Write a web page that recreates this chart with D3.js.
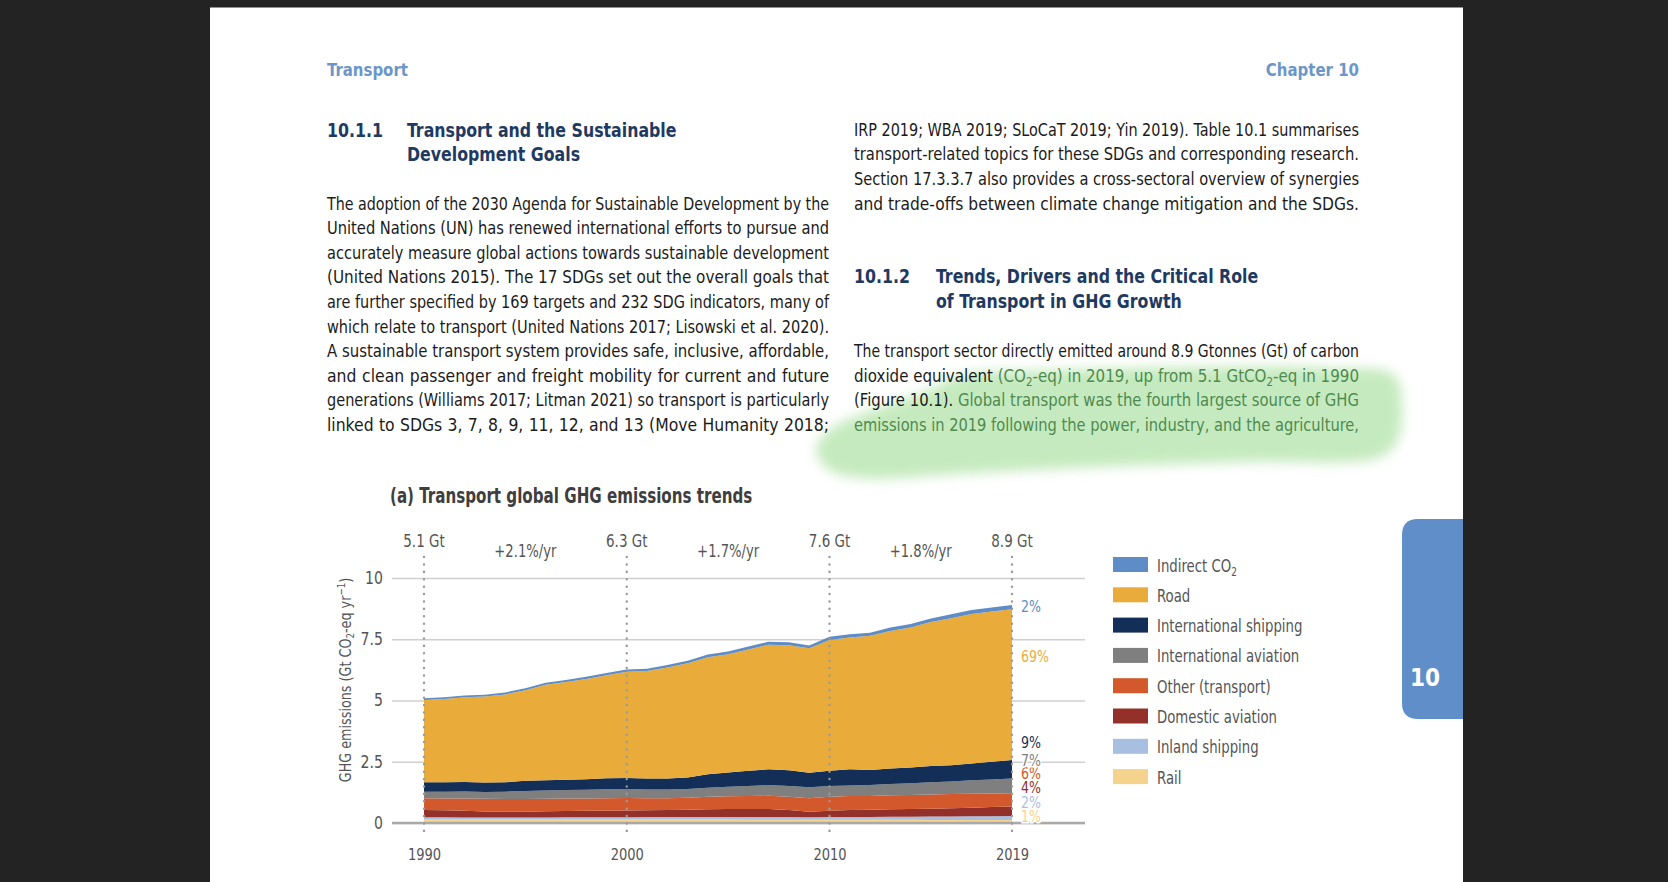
<!DOCTYPE html>
<html lang="en">
<head>
<meta charset="UTF-8">
<title>Transport global GHG emissions trends</title>
<script src="https://d3js.org/d3.v7.min.js"></script>
<style>
  body { margin: 0; background: #232323; overflow: hidden; }
  svg { display: block; font-family: "Liberation Sans Narrow", "Arial Narrow", "DejaVu Sans Condensed", sans-serif; }
</style>
</head>
<body>
<svg id="page" width="1668" height="882"></svg>
<script>
// ---- chart data (Gt CO2-eq per year) ----
const years = [1990, 1991, 1992, 1993, 1994, 1995, 1996, 1997, 1998, 1999,
               2000, 2001, 2002, 2003, 2004, 2005, 2006, 2007, 2008, 2009,
               2010, 2011, 2012, 2013, 2014, 2015, 2016, 2017, 2018, 2019];

const rail             = [0.14,0.14,0.14,0.14,0.14,0.14,0.14,0.14,0.14,0.14,0.14,0.14,0.14,0.14,0.14,0.14,0.13,0.13,0.13,0.13,0.13,0.13,0.13,0.13,0.13,0.12,0.12,0.12,0.12,0.12];
const inlandShipping   = [0.09,0.09,0.08,0.08,0.08,0.08,0.08,0.09,0.09,0.09,0.09,0.10,0.10,0.10,0.10,0.11,0.12,0.12,0.11,0.10,0.12,0.12,0.12,0.13,0.13,0.15,0.15,0.16,0.16,0.17];
const domesticAviation = [0.30,0.29,0.28,0.25,0.24,0.24,0.26,0.26,0.27,0.27,0.28,0.28,0.29,0.30,0.32,0.32,0.32,0.32,0.29,0.23,0.25,0.28,0.29,0.30,0.31,0.31,0.33,0.34,0.37,0.38];
const otherTransport   = [0.48,0.48,0.50,0.52,0.52,0.52,0.51,0.51,0.50,0.51,0.51,0.49,0.48,0.49,0.51,0.52,0.53,0.54,0.54,0.55,0.57,0.57,0.56,0.57,0.57,0.58,0.58,0.57,0.55,0.54];
const intlAviation     = [0.27,0.28,0.29,0.28,0.30,0.33,0.34,0.35,0.36,0.37,0.37,0.36,0.36,0.36,0.37,0.39,0.41,0.44,0.44,0.45,0.44,0.43,0.45,0.46,0.48,0.50,0.51,0.55,0.58,0.61];
const intlShipping     = [0.38,0.38,0.38,0.38,0.38,0.41,0.42,0.42,0.43,0.45,0.45,0.45,0.45,0.47,0.55,0.58,0.62,0.64,0.64,0.59,0.62,0.66,0.61,0.63,0.65,0.67,0.67,0.69,0.72,0.75];
const road             = [3.36,3.40,3.46,3.51,3.59,3.70,3.89,3.99,4.09,4.20,4.33,4.38,4.53,4.66,4.78,4.83,4.95,5.09,5.11,5.08,5.34,5.38,5.48,5.62,5.71,5.87,6.00,6.10,6.13,6.15];
const indirectCO2      = [0.07,0.07,0.07,0.07,0.08,0.08,0.08,0.08,0.09,0.09,0.10,0.10,0.10,0.10,0.11,0.11,0.12,0.12,0.12,0.12,0.13,0.13,0.13,0.14,0.14,0.15,0.16,0.16,0.17,0.18];

// stacking order, bottom to top
const seriesKeys   = ["rail", "inland", "domestic", "other", "intlAv", "intlShip", "road", "indirect"];
const seriesNames  = ["Rail", "Inland shipping", "Domestic aviation", "Other (transport)",
                      "International aviation", "International shipping", "Road", "Indirect CO_2"];
const seriesValues = [rail, inlandShipping, domesticAviation, otherTransport,
                      intlAviation, intlShipping, road, indirectCO2];
const seriesColors = ["#f6d38c", "#a9bfe2", "#93302a", "#d3582b", "#7f7f7f", "#132f57", "#e9ac3b", "#5d8cc7"];

// 2019 shares, printed right of the stack (bottom to top) and where they sit (Gt)
const shareLabels = ["1%", "2%", "4%", "6%", "7%", "9%", "69%", "2%"];
const shareAt     = [0.04, 0.61, 1.22, 1.8, 2.33, 3.06, 6.57, 8.61];

const totalYears  = [1990, 2000, 2010, 2019];
const totalLabels = ["5.1 Gt", "6.3 Gt", "7.6 Gt", "8.9 Gt"];
const growthLabels = ["+2.1%/yr", "+1.7%/yr", "+1.8%/yr"];
const yTicks = [0, 2.5, 5, 7.5, 10];
const xTicks = [1990, 2000, 2010, 2019];

// ---- page text ----
const leftLines = [
  "The adoption of the 2030 Agenda for Sustainable Development by the",
  "United Nations (UN) has renewed international efforts to pursue and",
  "accurately measure global actions towards sustainable development",
  "(United Nations 2015). The 17 SDGs set out the overall goals that",
  "are further specified by 169 targets and 232 SDG indicators, many of",
  "which relate to transport (United Nations 2017; Lisowski et al. 2020).",
  "A sustainable transport system provides safe, inclusive, affordable,",
  "and clean passenger and freight mobility for current and future",
  "generations (Williams 2017; Litman 2021) so transport is particularly",
  "linked to SDGs 3, 7, 8, 9, 11, 12, and 13 (Move Humanity 2018;"
];
const rightLinesTop = [
  "IRP 2019; WBA 2019; SLoCaT 2019; Yin 2019). Table 10.1 summarises",
  "transport-related topics for these SDGs and corresponding research.",
  "Section 17.3.3.7 also provides a cross-sectoral overview of synergies",
  "and trade-offs between climate change mitigation and the SDGs."
];
const rightLinesBottom = [
  "The transport sector directly emitted around 8.9 Gtonnes (Gt) of carbon",
  "dioxide equivalent [g](CO_2-eq) in 2019, up from 5.1 GtCO_2-eq in 1990",
  "(Figure 10.1). [g]Global transport was the fourth largest source of GHG",
  "[g]emissions in 2019 following the power, industry, and the agriculture,"
];

const svg = d3.select("#page");
const GREEN_TEXT = "#4f8a4f";

// page sheet
svg.append("rect").attr("x", 210).attr("y", 7.5).attr("width", 1253).attr("height", 880).attr("fill", "#fff");

// chapter tab
svg.append("path")
  .attr("d", "M1463,519 L1418,519 Q1402,519 1402,535 L1402,703 Q1402,719 1418,719 L1463,719 Z")
  .attr("fill", "#5f8ec8");
svg.append("text").attr("x", 1425).attr("y", 686).attr("text-anchor", "middle")
  .attr("font-size", 24).attr("font-weight", "bold").attr("fill", "#fff").text("10");

// highlighter stroke
const defs = svg.append("defs");
defs.append("filter").attr("id", "soft").attr("x", "-10%").attr("y", "-30%").attr("width", "120%").attr("height", "160%")
  .append("feGaussianBlur").attr("stdDeviation", 6);
const blob = [[957,376],[1060,370],[1200,367],[1330,368],[1394,375],[1402,405],[1397,442],[1378,458],
              [1250,462],[1100,467],[960,474],[860,478],[826,468],[816,448],[832,428],[878,408],[930,390]];
svg.append("path").attr("d", d3.line().curve(d3.curveCatmullRomClosed)(blob))
  .attr("fill", "#bce7b4").attr("opacity", 0.85).attr("filter", "url(#soft)");

// rich text: _2 subscript, ^-1 superscript, [g] switch to highlighted colour
function addRich(sel, str, size) {
  let col = null;
  str.split(/(_2|\^-1|\[g\])/).forEach(p => {
    if (p === "") return;
    if (p === "[g]") { col = GREEN_TEXT; return; }
    const t = sel.append("tspan");
    if (p === "_2") {
      t.text("2").attr("font-size", size * 0.68).attr("baseline-shift", (-size * 0.2) + "px");
    } else if (p === "^-1") {
      t.text("\u22121").attr("font-size", size * 0.68).attr("baseline-shift", (size * 0.38) + "px");
    } else {
      t.text(p);
    }
    if (col) t.attr("fill", col);
  });
}

// one line of page text, narrowed by k, optionally justified between x0 and x1
function textLine(g, x0, x1, y, str, o) {
  const k = o.k || 1;
  const t = g.append("text").attr("transform", `translate(${x0},${y}) scale(${k},1)`)
    .attr("font-size", o.size).attr("fill", o.fill)
    .attr("font-weight", o.bold ? "bold" : null);
  addRich(t, str, o.size);
  const w = t.node().getComputedTextLength();
  const target = (x1 - x0) / k;
  const gaps = (str.match(/ /g) || []).length;
  if (o.justify) {
    if (w > target || !gaps) t.attr("textLength", target).attr("lengthAdjust", "spacingAndGlyphs");
    else t.style("word-spacing", ((target - w) / gaps) + "px");
  } else if (w > target) {
    t.attr("textLength", target).attr("lengthAdjust", "spacingAndGlyphs");
  }
  return t;
}

// narrow already-placed labels to match the condensed face of the original
function squash(sel, k) {
  sel.each(function () {
    const w = this.getComputedTextLength();
    d3.select(this).attr("textLength", w * k).attr("lengthAdjust", "spacingAndGlyphs");
  });
}

const txt = svg.append("g");
const body = { size: 18.5, fill: "#1b1b1b", k: 0.94 };

// running header
const header = { size: 18.5, fill: "#6b96c9", bold: true, k: 0.9 };
textLine(txt, 327, 500, 76, "Transport", header);
const ch = textLine(txt, 1188, 1400, 76, "Chapter 10", header);
{
  // right-align the chapter label on the column edge
  const w = ch.node().getComputedTextLength() * 0.9;
  ch.attr("transform", `translate(${1359 - w},76) scale(0.9,1)`);
}

// section headings
const head = { size: 19.5, fill: "#1f3a62", bold: true, k: 0.9 };
textLine(txt, 327, 400, 136.5, "10.1.1", head);
textLine(txt, 407, 760, 136.5, "Transport and the Sustainable", head);
textLine(txt, 407, 760, 160.5, "Development Goals", head);
textLine(txt, 854, 930, 283.3, "10.1.2", head);
textLine(txt, 936, 1300, 283.3, "Trends, Drivers and the Critical Role", head);
textLine(txt, 936, 1300, 307.9, "of Transport in GHG Growth", head);

// paragraphs
const LH = 24.6;
leftLines.forEach((s, i) => textLine(txt, 327, 829, 209.5 + i * LH, s, Object.assign({ justify: true }, body)));
rightLinesTop.forEach((s, i) => textLine(txt, 854, 1359, 135.7 + i * LH, s,
  Object.assign({ justify: i < rightLinesTop.length - 1 }, body)));
rightLinesBottom.forEach((s, i) => textLine(txt, 854, 1359, 357.1 + i * LH, s, Object.assign({ justify: true }, body)));

// ---- chart ----
const x = d3.scaleLinear().domain([1990, 2019]).range([424, 1012]);
const y = d3.scaleLinear().domain([0, 10]).range([823, 578]);
const gridLeft = 392, gridRight = 1085;
const ink = "#555";

const chart = svg.append("g");

const title = chart.append("text").attr("x", 390).attr("y", 503).attr("font-size", 20.5).attr("font-weight", "bold")
  .attr("fill", "#3e3e3e").text("(a) Transport global GHG emissions trends");
squash(title, 0.82);

// y axis with gridlines
const yAxis = chart.append("g").attr("transform", `translate(${gridLeft},0)`)
  .call(d3.axisLeft(y).tickValues(yTicks).tickFormat(d => d).tickSize(-(gridRight - gridLeft)).tickPadding(9));
yAxis.attr("font-family", null);
yAxis.select(".domain").remove();
yAxis.selectAll(".tick line").attr("stroke", "#cfcfcf").attr("stroke-width", 1.6);
yAxis.selectAll(".tick text").attr("font-size", 17).attr("fill", ink);
squash(yAxis.selectAll(".tick text"), 0.92);

const yLabel = chart.append("text").attr("transform", "translate(351,680) rotate(-90)")
  .attr("text-anchor", "middle").attr("font-size", 16.5).attr("fill", ink);
addRich(yLabel, "GHG emissions (Gt CO_2-eq yr^-1)", 16.5);
squash(yLabel, 0.86);

// stacked areas
const table = years.map((yr, i) => {
  const row = { year: yr };
  seriesKeys.forEach((k, j) => { row[k] = seriesValues[j][i]; });
  return row;
});
const stacked = d3.stack().keys(seriesKeys)(table);
const area = d3.area().x(d => x(d.data.year)).y0(d => y(d[0])).y1(d => y(d[1]));
chart.append("g").selectAll("path").data(stacked).join("path")
  .attr("d", area).attr("fill", (d, i) => seriesColors[i]);

// baseline
chart.append("line").attr("x1", gridLeft).attr("x2", gridRight).attr("y1", y(0)).attr("y2", y(0))
  .attr("stroke", "#a9a9a9").attr("stroke-width", 2.6);

// x axis labels
const xAxis = chart.append("g").attr("transform", `translate(0,${y(0)})`)
  .call(d3.axisBottom(x).tickValues(xTicks).tickFormat(d3.format("d")).tickSize(0).tickPadding(25));
xAxis.attr("font-family", null);
xAxis.select(".domain").remove();
xAxis.selectAll(".tick text").attr("font-size", 16.5).attr("fill", ink);
squash(xAxis.selectAll(".tick text"), 0.88);

// dotted year markers, totals and growth rates
chart.append("g").selectAll("line").data(totalYears).join("line")
  .attr("x1", d => x(d)).attr("x2", d => x(d)).attr("y1", 557).attr("y2", 833)
  .attr("stroke", "#9a9a9a").attr("stroke-width", 2.4).attr("stroke-linecap", "round")
  .attr("stroke-dasharray", "0.1 7.3");
const totals = chart.append("g").selectAll("text").data(totalYears).join("text")
  .attr("x", d => x(d)).attr("y", 547).attr("text-anchor", "middle")
  .attr("font-size", 17).attr("fill", ink).text((d, i) => totalLabels[i]);
squash(totals, 0.88);
const growth = chart.append("g").selectAll("text").data(growthLabels).join("text")
  .attr("x", (d, i) => (x(totalYears[i]) + x(totalYears[i + 1])) / 2).attr("y", 557)
  .attr("text-anchor", "middle").attr("font-size", 17).attr("fill", ink).text(d => d);
squash(growth, 0.86);

// 2019 share labels
const shares = chart.append("g").selectAll("text").data(shareLabels).join("text")
  .attr("x", x(2019) + 9).attr("y", (d, i) => y(shareAt[i]))
  .attr("font-size", 15.5).attr("fill", (d, i) => seriesColors[i])
  .attr("stroke", "#fff").attr("stroke-width", 3).attr("paint-order", "stroke")
  .text(d => d);
squash(shares, 0.9);

// legend (top of stack first)
const legendOrder = d3.range(seriesKeys.length).reverse();
const legend = chart.append("g").selectAll("g").data(legendOrder).join("g")
  .attr("transform", (d, i) => `translate(1113,${557 + i * 30.3})`);
legend.append("rect").attr("width", 35).attr("height", 15).attr("fill", d => seriesColors[d]);
const legendText = legend.append("text").attr("x", 44).attr("y", 14.5).attr("font-size", 18).attr("fill", ink)
  .each(function (d) { addRich(d3.select(this), seriesNames[d], 18); });
squash(legendText, 0.82);
</script>
</body>
</html>
